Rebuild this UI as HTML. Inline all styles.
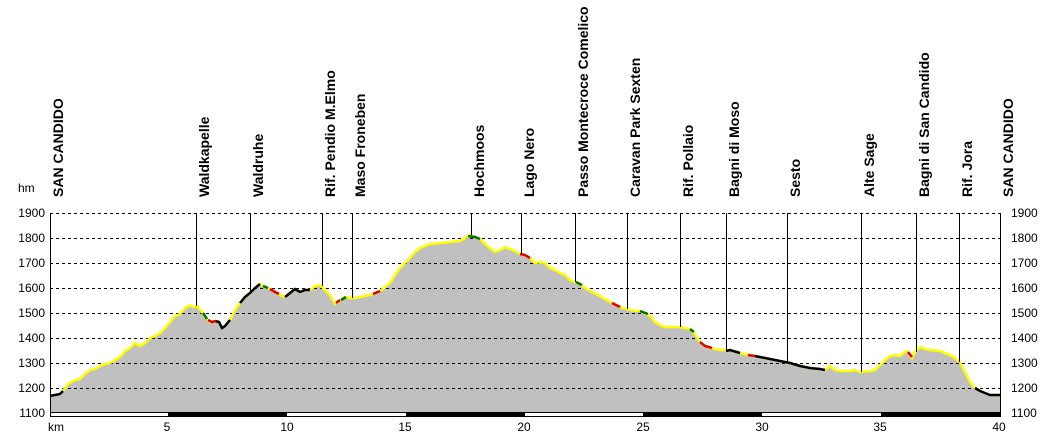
<!DOCTYPE html>
<html><head><meta charset="utf-8"><style>
html,body{margin:0;padding:0;background:#fff;}
svg{display:block;font-family:"Liberation Sans",Arial,sans-serif;}
</style></head><body>
<svg width="1050" height="439" viewBox="0 0 1050 439" xmlns="http://www.w3.org/2000/svg">
<defs>
<polyline id="prof" points="50,396 60,394 63,391 68,384 75,380 80,379 85,374 90,370 95,369 100,366 105,364 110,363 115,360 120,357 125,351 130,348 135,343 140,346 145,343 150,338 155,336 160,333 165,328 170,322 175,316 180,314 185,308 190,305 193,307 197,306 202,312 205,317 210,322 215,321 219,322 222,328 225,326 230,320 235,310 240,303 245,297 250,293 255,288 260,284 265,287 270,289 275,292 280,295 285,297 290,293 295,289 300,292 305,290 310,290 315,286 320,285 325,290 330,295 335,304 340,301 345,297 350,298 355,298 360,297 365,296 370,295 375,293 380,291 385,287 390,283 395,275 400,268 405,263 410,258 415,252 420,248 425,246 430,244 440,243 450,242 460,241 465,238 470,235 475,237 480,239 485,244 490,248 495,252 500,250 505,247 510,249 515,251 520,254 525,255 530,258 535,263 540,262 545,263 550,268 555,270 560,273 565,275 570,280 575,282 580,284 585,288 590,291 600,296 610,302 620,307 630,310 640,311 645,313 650,316 655,322 660,325 665,327 670,327 680,327 690,329 695,334 700,342 705,346 710,348 715,349 720,350 730,350 740,353 750,355 760,357 770,359 780,361 790,363 800,366 810,368 820,369 825,370 830,366 835,370 840,371 850,371 855,370 860,372 870,371 875,370 880,365 885,360 890,356 895,355 900,356 905,352 907,351 910,355 912,358 915,352 920,347 925,349 930,350 940,351 945,353 950,355 955,358 960,362 965,372 970,382 975,388 980,391 985,393 990,395 1000,395"/>
</defs>
<polygon fill="#c0c0c0" points="50,413 50,396 60,394 63,391 68,384 75,380 80,379 85,374 90,370 95,369 100,366 105,364 110,363 115,360 120,357 125,351 130,348 135,343 140,346 145,343 150,338 155,336 160,333 165,328 170,322 175,316 180,314 185,308 190,305 193,307 197,306 202,312 205,317 210,322 215,321 219,322 222,328 225,326 230,320 235,310 240,303 245,297 250,293 255,288 260,284 265,287 270,289 275,292 280,295 285,297 290,293 295,289 300,292 305,290 310,290 315,286 320,285 325,290 330,295 335,304 340,301 345,297 350,298 355,298 360,297 365,296 370,295 375,293 380,291 385,287 390,283 395,275 400,268 405,263 410,258 415,252 420,248 425,246 430,244 440,243 450,242 460,241 465,238 470,235 475,237 480,239 485,244 490,248 495,252 500,250 505,247 510,249 515,251 520,254 525,255 530,258 535,263 540,262 545,263 550,268 555,270 560,273 565,275 570,280 575,282 580,284 585,288 590,291 600,296 610,302 620,307 630,310 640,311 645,313 650,316 655,322 660,325 665,327 670,327 680,327 690,329 695,334 700,342 705,346 710,348 715,349 720,350 730,350 740,353 750,355 760,357 770,359 780,361 790,363 800,366 810,368 820,369 825,370 830,366 835,370 840,371 850,371 855,370 860,372 870,371 875,370 880,365 885,360 890,356 895,355 900,356 905,352 907,351 910,355 912,358 915,352 920,347 925,349 930,350 940,351 945,353 950,355 955,358 960,362 965,372 970,382 975,388 980,391 985,393 990,395 1000,395 1000,413"/>
<g stroke="#000" stroke-width="1" stroke-dasharray="3,3">
<line x1="50" y1="213.5" x2="1000" y2="213.5"/>
<line x1="50" y1="238.5" x2="1000" y2="238.5"/>
<line x1="50" y1="263.5" x2="1000" y2="263.5"/>
<line x1="50" y1="288.5" x2="1000" y2="288.5"/>
<line x1="50" y1="313.5" x2="1000" y2="313.5"/>
<line x1="50" y1="338.5" x2="1000" y2="338.5"/>
<line x1="50" y1="363.5" x2="1000" y2="363.5"/>
<line x1="50" y1="388.5" x2="1000" y2="388.5"/>
</g>
<use href="#prof" fill="none" stroke="#ffff00" stroke-width="2.5"/>
<g fill="none" stroke="#000" stroke-width="2.5">
<polyline points="50,396 60,394 63,391"/>
<polyline points="215,321 219,322 222,328 225,326 230,320"/>
<polyline points="240,303 245,297 250,293 255,288 260,284"/>
<polyline points="285,297 290,293 295,289 300,292 305,290 310,290"/>
<polyline points="726,351 730,350 740,353"/>
<polyline points="755,356 760,357 770,359 780,361 790,363 800,366 810,368 820,369 825,370"/>
<polyline points="975,388 980,391 985,393 990,395 1000,395"/>
</g>
<g fill="none" stroke="#e00000" stroke-width="2.5">
<polyline points="208,320 212,322 216,321"/>
<polyline points="270,289 275,292 279,294"/>
<polyline points="336,303 340,300"/>
<polyline points="373,294 380,291"/>
<polyline points="520,254 525,255 530,258"/>
<polyline points="700,342 705,346 712,348"/>
<polyline points="748,355 755,356"/>
<polyline points="908,352 912,357"/>
<polyline points="612,303 620,307"/>
</g>
<g fill="none" stroke="#007000" stroke-width="2.5">
<polyline points="203,313 207,319"/>
<polyline points="263,286 268,288"/>
<polyline points="341,300 346,297"/>
<polyline points="468,236 475,237 480,239"/>
<polyline points="640,311 648,314"/>
<polyline points="576,282 582,285"/>
<polyline points="690,329 694,332"/>
</g>
<g stroke="#000" stroke-width="1">
<line x1="196.5" y1="213" x2="196.5" y2="306"/>
<line x1="250.5" y1="213" x2="250.5" y2="293"/>
<line x1="322.5" y1="213" x2="322.5" y2="286"/>
<line x1="352.5" y1="213" x2="352.5" y2="298"/>
<line x1="471.5" y1="213" x2="471.5" y2="235"/>
<line x1="521.5" y1="213" x2="521.5" y2="254"/>
<line x1="575.5" y1="213" x2="575.5" y2="282"/>
<line x1="627.5" y1="213" x2="627.5" y2="309"/>
<line x1="680.5" y1="213" x2="680.5" y2="327"/>
<line x1="726.5" y1="213" x2="726.5" y2="351"/>
<line x1="787.5" y1="213" x2="787.5" y2="362"/>
<line x1="861.5" y1="213" x2="861.5" y2="372"/>
<line x1="916.5" y1="213" x2="916.5" y2="352"/>
<line x1="959.5" y1="213" x2="959.5" y2="362"/>
<line x1="50.5" y1="213" x2="50.5" y2="413"/>
<line x1="1000.5" y1="213" x2="1000.5" y2="413"/>
<line x1="50" y1="412.5" x2="1000" y2="412.5"/>
</g>
<g fill="#000">
<rect x="168" y="412" width="119" height="4"/>
<rect x="406" y="412" width="119" height="4"/>
<rect x="643" y="412" width="119" height="4"/>
<rect x="881" y="412" width="119" height="4"/>
</g>
<rect x="50.5" y="412.5" width="950" height="4" fill="none" stroke="#000" stroke-width="1"/>
<g font-size="12" fill="#000" text-anchor="end">
<text x="45" y="217">1900</text><text x="45" y="242">1800</text><text x="45" y="267">1700</text>
<text x="45" y="292">1600</text><text x="45" y="317">1500</text><text x="45" y="342">1400</text>
<text x="45" y="367">1300</text><text x="45" y="392">1200</text><text x="45" y="417">1100</text>
</g>
<g font-size="12" fill="#000">
<text x="1011" y="217">1900</text><text x="1011" y="242">1800</text><text x="1011" y="267">1700</text>
<text x="1011" y="292">1600</text><text x="1011" y="317">1500</text><text x="1011" y="342">1400</text>
<text x="1011" y="367">1300</text><text x="1011" y="392">1200</text><text x="1011" y="417">1100</text>
<text x="18" y="192">hm</text>
<text x="48" y="431">km</text>
</g>
<g font-size="12" fill="#000" text-anchor="middle">
<text x="167" y="431">5</text><text x="287" y="431">10</text><text x="405" y="431">15</text>
<text x="524" y="431">20</text><text x="643" y="431">25</text><text x="762" y="431">30</text>
<text x="880" y="431">35</text><text x="999" y="431">40</text>
</g>
<g font-size="14" font-weight="bold" fill="#000">
<text transform="translate(63,197) rotate(-90)">SAN CANDIDO</text>
<text transform="translate(209,197) rotate(-90)">Waldkapelle</text>
<text transform="translate(263,197) rotate(-90)">Waldruhe</text>
<text transform="translate(335,197) rotate(-90)">Rif. Pendio M.Elmo</text>
<text transform="translate(365,197) rotate(-90)">Maso Froneben</text>
<text transform="translate(484,197) rotate(-90)">Hochmoos</text>
<text transform="translate(534,197) rotate(-90)">Lago Nero</text>
<text transform="translate(588,197) rotate(-90)">Passo Montecroce Comelico</text>
<text transform="translate(640,197) rotate(-90)">Caravan Park Sexten</text>
<text transform="translate(693,197) rotate(-90)">Rif. Pollaio</text>
<text transform="translate(739,197) rotate(-90)">Bagni di Moso</text>
<text transform="translate(800,197) rotate(-90)">Sesto</text>
<text transform="translate(874,197) rotate(-90)">Alte Sage</text>
<text transform="translate(929,197) rotate(-90)">Bagni di San Candido</text>
<text transform="translate(972,197) rotate(-90)">Rif. Jora</text>
<text transform="translate(1013,197) rotate(-90)">SAN CANDIDO</text>
</g>
</svg>
</body></html>
